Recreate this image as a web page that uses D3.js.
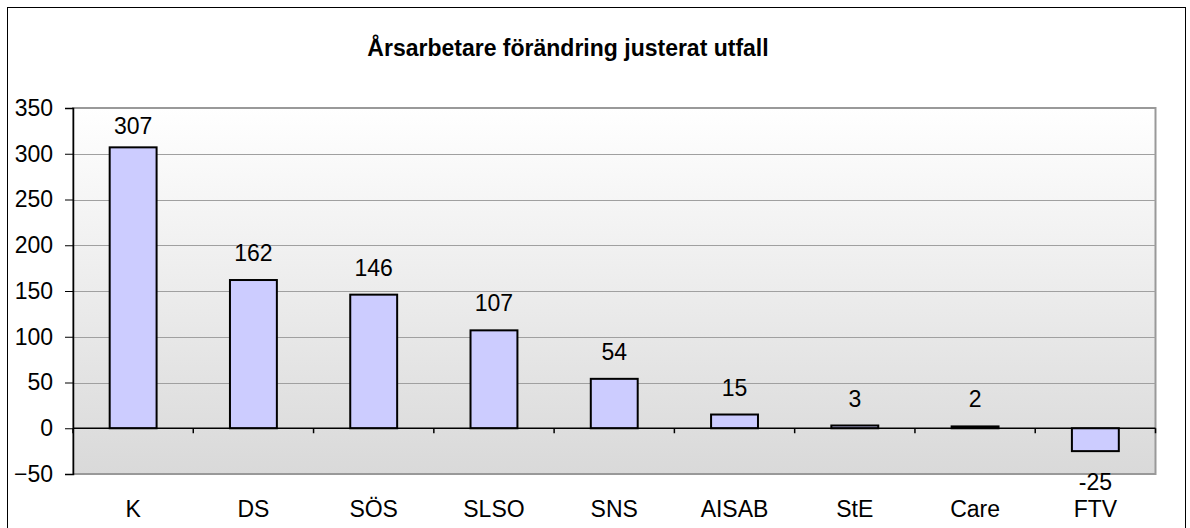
<!DOCTYPE html>
<html>
<head>
<meta charset="utf-8">
<script src="https://cdn.jsdelivr.net/npm/d3@7"></script>
<style>
  body { margin: 0; background: #fff; }
  text { font-family: "Liberation Sans", Arial, sans-serif; }
</style>
</head>
<body>
<div class="container"></div>
<script>
const w = 1190;
const h = 528;
const fontSize = '23px';

// chart data
const titleText = 'Årsarbetare förändring justerat utfall';
const categories = ['K', 'DS', 'SÖS', 'SLSO', 'SNS', 'AISAB', 'StE', 'Care', 'FTV'];
const values = [307, 162, 146, 107, 54, 15, 3, 2, -25];
const yTicks = [-50, 0, 50, 100, 150, 200, 250, 300, 350];

const plotLeft = 73;
const plotRight = 1155.5;
const plotTop = 108;
const plotBottom = 474;

const svg = d3.select('.container')
    .append('svg')
    .attr('width', w)
    .attr('height', h);

// outer frame
svg.append('rect')
    .attr('x', 7.5)
    .attr('y', 7.5)
    .attr('width', 1178)
    .attr('height', 530)
    .attr('fill', '#fff')
    .attr('stroke', '#000')
    .attr('stroke-width', 1);

svg.append('text')
    .attr('x', 568)
    .attr('y', 56)
    .attr('text-anchor', 'middle')
    .style('font-size', fontSize)
    .style('font-weight', 'bold')
    .text(titleText);

const xScale = d3.scaleBand()
    .domain(categories)
    .range([plotLeft, plotRight])
    .paddingInner(0.61)
    .paddingOuter(0.305);

const yScale = d3.scaleLinear()
    .domain([d3.min(yTicks), d3.max(yTicks)])
    .range([plotBottom, plotTop]);

const defs = svg.append('defs');
const grad = defs.append('linearGradient')
    .attr('id', 'bg')
    .attr('x1', 0).attr('y1', 0)
    .attr('x2', 0).attr('y2', 1);
grad.append('stop').attr('offset', '0%').attr('stop-color', '#ffffff');
grad.append('stop').attr('offset', '100%').attr('stop-color', '#d9d9d9');

// plot background
svg.append('rect')
    .attr('x', plotLeft)
    .attr('y', plotTop)
    .attr('width', plotRight - plotLeft)
    .attr('height', plotBottom - plotTop)
    .attr('fill', 'url(#bg)')
    .attr('stroke', '#999')
    .attr('stroke-width', 2);

// gridlines
svg.append('g')
    .selectAll('line')
    .data(yTicks.filter(d => d !== 0 && d !== d3.min(yTicks) && d !== d3.max(yTicks)))
    .enter()
    .append('line')
    .attr('x1', plotLeft)
    .attr('x2', plotRight)
    .attr('y1', d => Math.round(yScale(d)) + 0.5)
    .attr('y2', d => Math.round(yScale(d)) + 0.5)
    .attr('stroke', '#a0a0a0')
    .attr('stroke-width', 1);

// bars
svg.append('g')
    .selectAll('rect')
    .data(values)
    .enter()
    .append('rect')
    .attr('x', (d, i) => xScale(categories[i]))
    .attr('y', d => yScale(Math.max(0, d)))
    .attr('width', xScale.bandwidth())
    .attr('height', d => Math.abs(yScale(d) - yScale(0)))
    .attr('fill', '#ccccff')
    .attr('stroke', '#000')
    .attr('stroke-width', 2);

// value labels
svg.append('g')
    .selectAll('text')
    .data(values)
    .enter()
    .append('text')
    .attr('x', (d, i) => xScale(categories[i]) + xScale.bandwidth() / 2)
    .attr('y', d => d >= 0 ? Math.max(yScale(d) - 19, plotTop + 26) : yScale(d) + 39)
    .attr('text-anchor', 'middle')
    .style('font-size', fontSize)
    .text(d => d);

// y axis
const yAxis = d3.axisLeft(yScale)
    .tickValues(yTicks)
    .tickSize(8)
    .tickPadding(12);

const gy = svg.append('g')
    .attr('transform', `translate(${plotLeft}, 0)`)
    .call(yAxis);
gy.select('.domain').attr('stroke', '#000').attr('stroke-width', 1.5);
gy.selectAll('.tick line').attr('stroke', '#000');
gy.selectAll('.tick text')
    .attr('fill', '#000')
    .style('font-size', fontSize)
    .style('font-family', '"Liberation Sans", Arial, sans-serif');

// zero line with category ticks
const step = xScale.step();
const boundaries = d3.range(categories.length + 1).map(i => plotLeft + i * step);
svg.append('line')
    .attr('x1', plotLeft)
    .attr('x2', plotRight)
    .attr('y1', yScale(0))
    .attr('y2', yScale(0))
    .attr('stroke', '#000')
    .attr('stroke-width', 1.5);
svg.append('g')
    .selectAll('line')
    .data(boundaries)
    .enter()
    .append('line')
    .attr('x1', d => d)
    .attr('x2', d => d)
    .attr('y1', yScale(0))
    .attr('y2', yScale(0) + 5)
    .attr('stroke', '#000')
    .attr('stroke-width', 1.5);

// category labels
svg.append('g')
    .selectAll('text')
    .data(categories)
    .enter()
    .append('text')
    .attr('x', d => xScale(d) + xScale.bandwidth() / 2)
    .attr('y', 517)
    .attr('text-anchor', 'middle')
    .style('font-size', fontSize)
    .text(d => d);
</script>
</body>
</html>
